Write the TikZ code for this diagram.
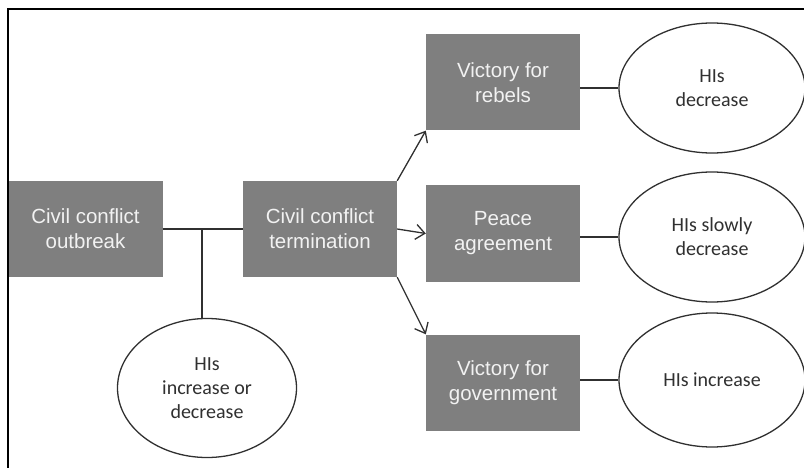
\documentclass[tikz,border=0pt]{standalone}
\usepackage{fontspec}
\setmainfont{Liberation Sans}
\newfontfamily\ovalfont{Carlito}
\usepackage{xcolor}
\usetikzlibrary{arrows.meta,positioning,shapes.geometric}

\definecolor{boxgray}{HTML}{7F7F7F}
\definecolor{boxtext}{HTML}{F2F2F2}
\definecolor{inkgray}{HTML}{303030}

\tikzset{
  stage/.style={fill=boxgray, text=boxtext, align=center, inner sep=0pt,
    minimum width=154pt, minimum height=96pt,
    font=\fontsize{20.5}{25}\selectfont},
  effect/.style={ellipse, draw=inkgray, line width=1.3pt, fill=white, align=center,
    inner sep=0pt, text=inkgray, font=\ovalfont\fontsize{20}{24}\selectfont},
  link/.style={draw=inkgray, line width=1.3pt},
}

\begin{document}
\begin{tikzpicture}[x=1pt, y=-1pt, >={Straight Barb[length=9pt,width=15pt]}]

  \useasboundingbox (0,0) rectangle (804,468);

  % Frame
  \draw[line width=2pt] (7.5,468) -- (7.5,9.5) -- (804,9.5);

  % Define coordinates for nodes
  \node[stage] (out) at (85.5, 229) {Civil conflict\\outbreak};
  \node[stage] (term) at (320, 229) {Civil conflict\\termination};
  \node[stage] (reb) at (503, 82.5) {Victory for\\rebels};
  \node[stage] (peace) at (503, 233.5) {Peace\\agreement};
  \node[stage] (gov) at (503, 382.5) {Victory for\\government};
  \node[effect, minimum width=179pt, minimum height=139pt] (mix) at (207, 388) {HIs\\increase or\\decrease};
  \node[effect, minimum width=186pt, minimum height=130pt] (rebE) at (712, 88) {HIs\\decrease};
  \node[effect, minimum width=186pt, minimum height=130pt] (peaceE) at (712, 237) {HIs slowly\\decrease};
  \node[effect, minimum width=186pt, minimum height=134pt] (govE) at (712, 380) {HIs increase};
  \coordinate (jn) at (202, 229);

  % Draw arrows between nodes
  \draw[link] (out) to (term);
  \draw[link] (jn) to (jn |- mix.north);
  \draw[link, ->] (term.north east) to (reb.south west);
  \draw[link, ->] (term.east) to (peace.west);
  \draw[link, ->] (term.south east) to (gov.north west);
  \draw[link] (rebE.west -| reb.east) to (rebE.west);
  \draw[link] (peaceE.west -| peace.east) to (peaceE.west);
  \draw[link] (govE.west -| gov.east) to (govE.west);

\end{tikzpicture}
\end{document}
